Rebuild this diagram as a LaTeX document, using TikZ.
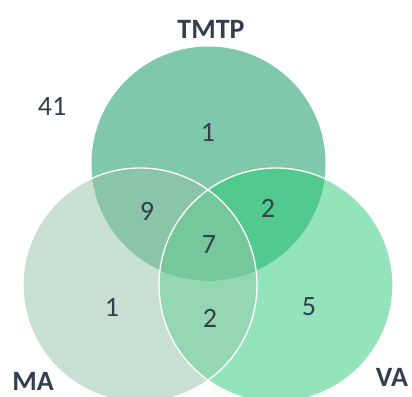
\documentclass[tikz,border=0pt]{standalone}
\usepackage{fontspec}
\setmainfont{Carlito}
\definecolor{txt}{HTML}{333E4F}
\definecolor{cT}{HTML}{80C8AB}
\definecolor{cM}{HTML}{C7E0D3}
\definecolor{cV}{HTML}{93E4BB}
\definecolor{cTM}{HTML}{8AC5A8}
\definecolor{cTV}{HTML}{52C98D}
\definecolor{cMV}{HTML}{95D6B3}
\definecolor{cTMV}{HTML}{74C89B}
\tikzset{num/.style={font=\fontsize{28}{30}\selectfont, text=txt, inner sep=0pt},
  lab/.style={font=\fontsize{28}{30}\selectfont\bfseries, text=txt, inner sep=0pt}}
\begin{document}
\begin{tikzpicture}[x=1pt,y=-1pt]
\useasboundingbox (0,0) rectangle (412,396);
\coordinate (T) at (208.5,163.5);
\coordinate (M) at (140,285);
\coordinate (V) at (276,285);
\def\R{117pt}
\fill[cM] (M) circle[radius=\R];
\fill[cV] (V) circle[radius=\R];
\begin{scope}
\clip (M) circle[radius=\R];
\fill[cMV] (V) circle[radius=\R];
\end{scope}
\fill[cT] (T) circle[radius=\R];
\begin{scope}
\clip (T) circle[radius=\R];
\fill[cTM] (M) circle[radius=\R];
\fill[cTV] (V) circle[radius=\R];
\clip (M) circle[radius=\R];
\fill[cTMV] (V) circle[radius=\R];
\end{scope}
\draw[white, line width=1.3pt] (M) circle[radius=\R];
\draw[white, line width=1.3pt] (V) circle[radius=\R];
\node[lab] (lT) at (211,29) {TMTP};
\node[lab] (lM) at (33,381) {MA};
\node[lab] (lV) at (392,377) {VA};
\node[num] (n41) at (52,106) {41};
\node[num] (nT) at (208,132) {1};
\node[num] (nTM) at (147,211) {9};
\node[num] (nTV) at (268,208) {2};
\node[num] (nTMV) at (209,245) {7};
\node[num] (nM) at (112,307) {1};
\node[num] (nMV) at (210,318) {2};
\node[num] (nV) at (309,307) {5};
\end{tikzpicture}
\end{document}
